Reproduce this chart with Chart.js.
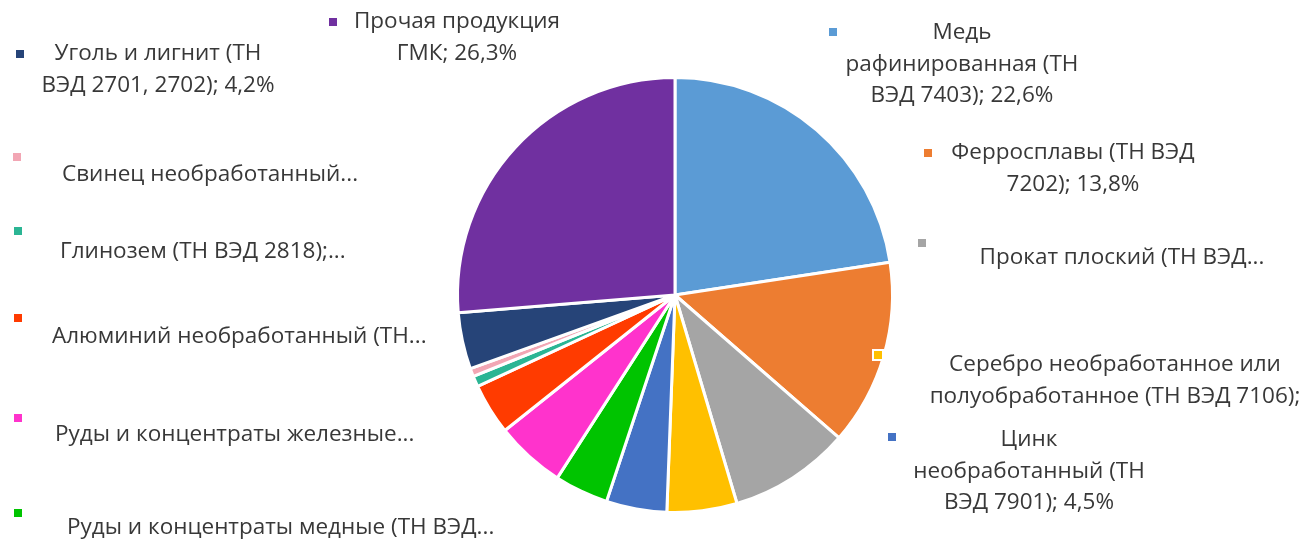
<!DOCTYPE html>
<html>
<head>
<meta charset="utf-8">
<script src="https://cdn.jsdelivr.net/npm/chart.js@4"></script>
<style>
  html, body { margin: 0; padding: 0; background: #fff; }
  #wrap { width: 1301px; height: 541px; position: relative; overflow: hidden; }
</style>
</head>
<body>
<div id="wrap"><canvas id="pie"></canvas></div>
<script>
// data, clockwise from 12 o'clock
const categories = [
  'Медь рафинированная (ТН ВЭД 7403)',
  'Ферросплавы (ТН ВЭД 7202)',
  'Прокат плоский (ТН ВЭД ...)',
  'Серебро необработанное или полуобработанное (ТН ВЭД 7106)',
  'Цинк необработанный (ТН ВЭД 7901)',
  'Руды и концентраты медные (ТН ВЭД ...)',
  'Руды и концентраты железные ...',
  'Алюминий необработанный (ТН ...)',
  'Глинозем (ТН ВЭД 2818)',
  'Свинец необработанный ...',
  'Уголь и лигнит (ТН ВЭД 2701, 2702)',
  'Прочая продукция ГМК'
];
const shares = [22.6, 13.8, 9.0, 5.2, 4.5, 4.0, 5.2, 3.8, 0.8, 0.6, 4.2, 26.3];
const colors = ['#5b9bd5', '#ed7d31', '#a5a5a5', '#ffc000', '#4472c4', '#00c400',
                '#ff33cc', '#ff3b00', '#2bb594', '#f2a6b4', '#264478', '#7030a0'];

// label text as it appears on the chart (Excel truncates some)
const labelLines = [
  ['Медь', 'рафинированная (ТН', 'ВЭД 7403); 22,6%'],
  ['Ферросплавы (ТН ВЭД', '7202); 13,8%'],
  ['Прокат плоский (ТН ВЭД...'],
  ['Серебро необработанное или', 'полуобработанное (ТН ВЭД 7106);'],
  ['Цинк', 'необработанный (ТН', 'ВЭД 7901); 4,5%'],
  ['Руды и концентраты медные (ТН ВЭД...'],
  ['Руды и концентраты железные...'],
  ['Алюминий необработанный (ТН...'],
  ['Глинозем (ТН ВЭД 2818);...'],
  ['Свинец необработанный...'],
  ['Уголь и лигнит (ТН', 'ВЭД 2701, 2702); 4,2%'],
  ['Прочая продукция', 'ГМК; 26,3%']
];

/********** label placement (layout only) **********/
// mx,my = key square; tx = text anchor; ty = first line centre; align
const labelLayout = [
  { mx: 833, my: 32,  tx: 962,  ty: 33,  align: 'center' },
  { mx: 928, my: 153, tx: 1073, ty: 153, align: 'center' },
  { mx: 922, my: 243, tx: 1122, ty: 258, align: 'center' },
  { mx: 878, my: 355, tx: 1115, ty: 365, align: 'center', ring: true },
  { mx: 892, my: 437, tx: 1029, ty: 440, align: 'center' },
  { mx: 18,  my: 513, tx: 67,   ty: 528, align: 'left' },
  { mx: 18,  my: 418, tx: 55,   ty: 435, align: 'left' },
  { mx: 18,  my: 318, tx: 52,   ty: 337, align: 'left' },
  { mx: 18,  my: 231, tx: 60,   ty: 252, align: 'left' },
  { mx: 17,  my: 157, tx: 62,   ty: 175, align: 'left' },
  { mx: 20,  my: 54,  tx: 158,  ty: 54,  align: 'center' },
  { mx: 333, my: 22,  tx: 457,  ty: 22,  align: 'center' }
];
const lineGap = 31.5;

const outsideLabels = {
  id: 'outsideLabels',
  afterDraw(chart) {
    const ctx = chart.ctx;
    ctx.save();
    ctx.font = '22.5px "Open Sans", sans-serif';
    ctx.textBaseline = 'middle';
    labelLayout.forEach((l, i) => {
      // key square
      if (l.ring) {
        ctx.fillStyle = '#ffffff';
        ctx.fillRect(l.mx - 6, l.my - 6, 12, 12);
      }
      ctx.fillStyle = colors[i];
      ctx.fillRect(l.mx - 4, l.my - 4, 8, 8);
      ctx.fillStyle = '#383838';
      ctx.textAlign = l.align;
      labelLines[i].forEach((t, k) => {
        ctx.fillText(t, l.tx, l.ty + k * lineGap);
      });
    });
    ctx.restore();
  }
};

const ctx = document.getElementById('pie').getContext('2d');
const chart = new Chart(ctx, {
  type: 'pie',
  data: {
    labels: categories,
    datasets: [{
      data: shares,
      backgroundColor: colors,
      borderColor: '#ffffff',
      borderWidth: 3
    }]
  },
  options: {
    responsive: true,
    maintainAspectRatio: false,
    animation: false,
    layout: { padding: { left: 456, right: 407, top: 76, bottom: 27 } },
    plugins: {
      legend: { display: false },
      tooltip: { enabled: false }
    }
  },
  plugins: [outsideLabels]
});
</script>
</body>
</html>
